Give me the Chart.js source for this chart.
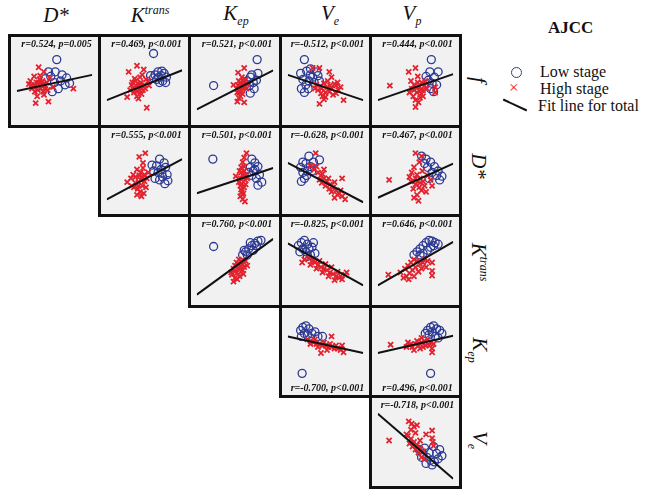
<!DOCTYPE html>
<html>
<head>
<meta charset="utf-8">
<script src="https://cdn.jsdelivr.net/npm/chart.js@4.4.1/dist/chart.umd.min.js"></script>
<style>
  body { margin: 0; background: #fff; width: 648px; height: 495px; position: relative; overflow: hidden; font-family: "Liberation Serif", serif; }
  .panel { position: absolute; box-sizing: border-box; border: 3px solid #111; background: #f1f1f1; }
  .panel canvas { display: block; }
  .hdr { position: absolute; font-style: italic; font-size: 21px; transform: translate(-50%, -50%); white-space: nowrap; color: #111; }
  .hdr sup, .side sup { font-size: 12px; }
  .hdr sub, .side sub { font-size: 12px; }
  .side { position: absolute; font-style: italic; font-size: 21px; white-space: nowrap; color: #111; transform: translate(-50%, -50%) rotate(90deg); }
  .leg { position: absolute; font-family: "Liberation Serif", serif; font-size: 16px; color: #111; white-space: nowrap; }
</style>
</head>
<body>
<script>
// column / row variables of the matrix
const colVars = ["D*", "Ktrans", "Kep", "Ve", "Vp"];
const rowVars = ["f", "D*", "Ktrans", "Kep", "Ve"];

// points (x, y in 0-100 of the panel), fit line = [y at left, y at right]
const fD_low = [[53,78],[42,62],[51,62],[66,54],[64,45],[55,40],[47,36],[38,53],[45,56],[58,50],[60,58],[70,47],[50,48]];
const fD_high = [[29,68],[36,62],[23,56],[20,45],[25,21],[36,32],[42,23],[75,40],[18,50],[22,42],[26,48],[30,44],[34,50],[28,38],[32,40],[38,44],[24,36],[30,52],[40,48],[35,36],[27,30],[44,54],[20,40],[33,46],[48,42],[16,46],[31,57],[41,38],[25,44],[29,48],[37,40]];
const fD_fit = [37, 58];
const fD_r = "r=0.524, p=0.005";

const fK_low = [[62,86],[64,58],[68,62],[72,57],[76,60],[79,55],[74,50],[70,48],[66,52],[78,48],[69,55],[62,54],[73,63],[58,57]];
const fK_high = [[29,62],[40,70],[49,65],[27,29],[53,15],[33,45],[38,50],[42,42],[45,48],[48,38],[36,35],[40,30],[44,55],[50,45],[52,52],[35,40],[39,44],[46,33],[55,50],[42,27],[31,38],[47,58],[37,53],[43,38],[51,40],[34,48],[56,44],[44,44],[40,36],[46,40],[41,47]];
const fK_fit = [25, 64];
const fK_r = "r=0.469, p<0.001";

const fKep_low = [[79,78],[22,44],[80,60],[70,55],[78,51],[69,44],[70,34],[74,48],[66,50],[75,40],[72,58]];
const fKep_high = [[62,67],[54,61],[48,45],[62,22],[53,23],[55,50],[58,45],[60,40],[56,35],[62,48],[64,52],[52,40],[57,30],[59,55],[60,33],[54,44],[63,42],[66,46],[58,38],[55,28],[61,50],[53,35],[57,48],[65,40],[59,43],[56,42]];
const fKep_fit = [13, 64];
const fKep_r = "r=0.521, p<0.001";

const fVe_low = [[22,78],[17,60],[20,52],[24,45],[25,63],[30,58],[28,50],[33,55],[38,62],[35,48],[18,40],[22,35],[40,57],[27,40],[42,50],[30,66]];
const fVe_high = [[33,67],[42,67],[58,55],[55,62],[64,44],[67,38],[74,25],[42,20],[50,29],[38,45],[45,40],[48,47],[52,42],[55,36],[58,40],[62,46],[60,32],[44,34],[40,38],[50,35],[56,44],[66,48],[46,30],[53,50],[36,40],[64,34],[70,42],[48,26]];
const fVe_fit = [58, 25];
const fVe_r = "r=-0.512, p<0.001";

const fVp_low = [[71,78],[69,62],[80,62],[67,51],[72,47],[75,55],[78,45],[70,40],[74,36],[64,56]];
const fVp_high = [[16,44],[50,67],[41,62],[53,56],[50,16],[45,40],[48,45],[52,35],[55,42],[58,48],[60,38],[62,44],[47,30],[44,50],[56,28],[50,25],[60,30],[65,40],[76,42],[76,35],[42,35],[53,48],[58,33],[48,38],[63,50],[54,22],[51,41],[57,38]];
const fVp_fit = [25, 59];
const fVp_r = "r=0.444, p<0.001";

const DK_low = [[70,66],[76,61],[77,33],[66,57],[72,52],[80,45],[74,42],[68,48],[62,50],[78,55],[64,40],[70,38],[81,37],[60,58],[73,47]];
const DK_high = [[51,74],[43,69],[48,61],[27,35],[32,40],[40,52],[45,48],[50,45],[38,42],[42,35],[47,30],[44,22],[36,28],[50,36],[53,40],[40,18],[46,16],[35,45],[48,54],[52,28],[38,34],[43,44],[55,48],[41,26],[49,20],[33,30],[45,38],[47,42],[42,30]];
const DK_fit = [12, 66];
const DK_r = "r=0.555, p<0.001";

const DKep_low = [[21,66],[72,66],[76,61],[80,56],[70,55],[74,50],[82,45],[78,40],[72,44],[85,35],[80,31],[68,48],[76,52]];
const DKep_high = [[65,74],[62,68],[60,62],[51,43],[58,55],[62,50],[60,45],[57,40],[63,38],[59,33],[62,28],[58,25],[61,20],[57,16],[60,12],[63,9],[64,45],[56,50],[66,40],[55,35],[59,22],[62,56],[57,30],[64,32],[60,18],[61,42],[58,48]];
const DKep_fit = [20, 54];
const DKep_r = "r=0.501, p<0.001";

const DVe_low = [[42,65],[17,55],[20,48],[24,60],[28,70],[22,40],[18,36],[26,50],[30,56],[34,62],[25,44],[32,50],[20,62]];
const DVe_high = [[37,74],[72,40],[30,57],[35,52],[40,48],[44,44],[48,40],[52,36],[56,32],[60,28],[64,24],[68,20],[72,16],[76,12],[42,38],[50,30],[46,46],[54,40],[58,22],[62,35],[66,18],[38,56],[45,34],[55,26],[70,24],[48,52],[62,14]];
const DVe_fit = [61, 8];
const DVe_r = "r=-0.628, p<0.001";

const DVp_low = [[58,70],[64,66],[70,62],[75,56],[80,50],[85,43],[72,48],[66,55],[78,44],[68,40],[62,60],[82,38]];
const DVp_high = [[15,38],[50,74],[58,70],[55,62],[48,55],[45,48],[52,45],[56,40],[60,36],[44,36],[50,32],[55,28],[58,24],[52,18],[48,14],[54,10],[62,30],[66,44],[70,38],[42,42],[47,26],[59,50],[64,22],[72,30],[53,36],[50,40],[56,34]];
const DVp_fit = [14, 60];
const DVp_r = "r=0.467, p<0.001";

const KKep_low = [[22,69],[60,58],[64,62],[68,66],[72,70],[76,73],[80,76],[84,77],[70,74],[74,64],[66,58],[62,64],[78,70]];
const KKep_high = [[45,35],[48,40],[50,44],[52,48],[55,52],[58,50],[60,46],[55,40],[52,34],[50,28],[48,23],[56,30],[60,38],[62,42],[64,50],[54,46],[46,32],[58,36],[66,44],[50,38],[53,26],[57,44],[61,33]];
const KKep_fit = [6, 79];
const KKep_r = "r=0.760, p<0.001";

const KVe_low = [[14,70],[18,74],[22,77],[26,72],[20,66],[24,62],[28,66],[32,68],[36,60],[30,58],[16,62],[34,74],[26,56]];
const KVe_high = [[22,52],[28,54],[32,50],[36,48],[40,45],[44,42],[48,40],[52,38],[56,35],[60,33],[64,30],[68,28],[72,26],[76,32],[78,35],[30,45],[38,40],[46,35],[54,30],[62,25],[42,50],[50,46],[58,42],[66,36],[70,30],[34,52],[19,48]];
const KVe_fit = [73, 18];
const KVe_r = "r=-0.825, p<0.001";

const KVp_low = [[48,58],[52,62],[56,66],[60,70],[64,74],[68,77],[72,76],[76,74],[80,72],[66,64],[70,68],[60,60],[56,58],[74,70]];
const KVp_high = [[14,32],[41,26],[72,48],[72,37],[72,31],[30,35],[36,40],[40,44],[44,48],[48,52],[52,50],[56,46],[60,48],[62,52],[64,42],[50,42],[46,38],[54,36],[42,34],[58,40],[38,30],[66,50],[48,30],[34,28]];
const KVp_fit = [18, 75];
const KVp_r = "r=0.646, p<0.001";

const KepVe_low = [[17,78],[20,82],[24,84],[28,80],[22,74],[18,70],[26,72],[32,74],[36,76],[30,68],[40,70],[46,70],[19,21]];
const KepVe_high = [[58,70],[44,48],[74,49],[26,66],[30,64],[34,62],[38,60],[42,60],[46,58],[50,58],[54,56],[58,56],[62,54],[66,54],[70,52],[72,58],[30,60],[40,56],[48,62],[56,60],[64,58],[36,66],[52,52]];
const KepVe_fit = [70, 48];
const KepVe_r = "r=-0.700, p<0.001";

const KepVp_low = [[63,74],[66,78],[70,82],[74,84],[78,80],[82,78],[85,74],[72,76],[68,72],[76,70],[80,68],[70,21]];
const KepVp_high = [[17,59],[72,49],[38,56],[42,58],[46,56],[50,60],[54,58],[58,62],[62,64],[66,66],[70,62],[74,60],[48,52],[56,54],[64,58],[40,62],[52,64],[60,56],[68,58],[72,54],[44,60],[58,68]];
const KepVp_fit = [48, 71];
const KepVp_r = "r=0.496, p<0.001";

const VeVp_low = [[55,40],[60,35],[65,30],[70,26],[75,24],[80,28],[85,32],[58,30],[64,22],[72,20],[78,35],[68,36],[62,42],[82,40],[74,44]];
const VeVp_high = [[15,52],[41,77],[45,74],[48,70],[52,72],[44,66],[50,62],[72,65],[72,55],[73,50],[74,45],[40,58],[44,54],[48,50],[52,46],[56,42],[60,38],[46,44],[50,40],[54,36],[42,48],[56,52],[38,60],[58,30],[62,28],[64,60]];
const VeVp_fit = [87, 2];
const VeVp_r = "r=-0.718, p<0.001";

const panels = [
  [0, 0, fD_low, fD_high, fD_fit, fD_r],
  [0, 1, fK_low, fK_high, fK_fit, fK_r],
  [0, 2, fKep_low, fKep_high, fKep_fit, fKep_r],
  [0, 3, fVe_low, fVe_high, fVe_fit, fVe_r],
  [0, 4, fVp_low, fVp_high, fVp_fit, fVp_r],
  [1, 1, DK_low, DK_high, DK_fit, DK_r],
  [1, 2, DKep_low, DKep_high, DKep_fit, DKep_r],
  [1, 3, DVe_low, DVe_high, DVe_fit, DVe_r],
  [1, 4, DVp_low, DVp_high, DVp_fit, DVp_r],
  [2, 2, KKep_low, KKep_high, KKep_fit, KKep_r],
  [2, 3, KVe_low, KVe_high, KVe_fit, KVe_r],
  [2, 4, KVp_low, KVp_high, KVp_fit, KVp_r],
  [3, 3, KepVe_low, KepVe_high, KepVe_fit, KepVe_r],
  [3, 4, KepVp_low, KepVp_high, KepVp_fit, KepVp_r],
  [4, 4, VeVp_low, VeVp_high, VeVp_fit, VeVp_r],
];

// grid edges in page pixels
const colEdges = [9, 99, 189, 280, 370, 460];
const rowEdges = [35, 126, 215, 306, 396, 487];

const rLabel = {
  id: "rLabel",
  afterDraw(chart, args, opts) {
    const { ctx, width, height } = chart;
    ctx.save();
    ctx.font = "italic bold 10px 'Liberation Serif'";
    ctx.fillStyle = "#111";
    ctx.textAlign = "center";
    ctx.textBaseline = "middle";
    const y = opts.bottom ? height - 7 : 7;
    ctx.fillText(opts.text, width / 2 + 2, y);
    ctx.restore();
  }
};

const toXY = (arr) => arr.map(p => ({ x: p[0], y: p[1] }));

panels.forEach(([r, c, low, high, fit, label]) => {
  const div = document.createElement("div");
  div.className = "panel";
  const w = colEdges[c + 1] - colEdges[c] + 3;
  const h = rowEdges[r + 1] - rowEdges[r] + 3;
  div.style.left = (colEdges[c] - 1) + "px";
  div.style.top = (rowEdges[r] - 1) + "px";
  div.style.width = w + "px";
  div.style.height = h + "px";
  const cv = document.createElement("canvas");
  cv.width = w - 6;
  cv.height = h - 6;
  div.appendChild(cv);
  document.body.appendChild(div);

  new Chart(cv.getContext("2d"), {
    type: "scatter",
    data: {
      datasets: [
        {
          type: "line",
          data: [{ x: 0, y: fit[0] }, { x: 100, y: fit[1] }],
          borderColor: "#111",
          borderWidth: 2,
          pointRadius: 0,
          order: 0,
        },
        {
          data: toXY(high),
          pointStyle: "crossRot",
          pointRadius: 3.6,
          borderColor: "#e2222e",
          borderWidth: 1.8,
          order: 1,
        },
        {
          data: toXY(low),
          pointStyle: "circle",
          pointRadius: 4,
          borderColor: "#2d3a94",
          backgroundColor: "rgba(0,0,0,0)",
          borderWidth: 1.3,
          order: 2,
        },
      ],
    },
    options: {
      responsive: false,
      animation: false,
      events: [],
      layout: { padding: 0 },
      scales: {
        x: { type: "linear", min: 0, max: 100, display: false },
        y: { type: "linear", min: 0, max: 100, display: false },
      },
      plugins: {
        legend: { display: false },
        tooltip: { enabled: false },
        rLabel: { text: label, bottom: r === 3 },
      },
    },
    plugins: [rLabel],
  });
});

// column headers and row labels
const hdrHtml = ["D*", "K<sup>trans</sup>", "K<sub>ep</sub>", "V<sub>e</sub>", "V<sub>p</sub>"];
const hdrX = [56, 150, 236, 330, 412];
hdrHtml.forEach((t, i) => {
  const d = document.createElement("div");
  d.className = "hdr";
  d.innerHTML = t;
  d.style.left = hdrX[i] + "px";
  d.style.top = "15px";
  document.body.appendChild(d);
});
const sideHtml = ["f", "D*", "K<sup>trans</sup>", "K<sub>ep</sub>", "V<sub>e</sub>"];
const sideY = [80, 166, 262, 350, 440];
sideHtml.forEach((t, i) => {
  const d = document.createElement("div");
  d.className = "side";
  d.innerHTML = t;
  d.style.left = "478px";
  d.style.top = sideY[i] + "px";
  document.body.appendChild(d);
});
</script>
<div class="leg" style="left:548px; top:18px; font-weight:bold; font-size:17px;">AJCC</div>
<div style="position:absolute; left:511px; top:67px; width:9px; height:9px; border:1.5px solid #2d3a94; border-radius:50%;"></div>
<div class="leg" style="left:540px; top:63px;">Low stage</div>
<div class="leg" style="left:509px; top:78px; color:#e2222e; font-size:17px;">×</div>
<div class="leg" style="left:540px; top:80px;">High stage</div>
<div style="position:absolute; left:502px; top:104px; width:26px; height:2px; background:#111; transform:rotate(25deg);"></div>
<div class="leg" style="left:538px; top:97px;">Fit line for total</div>
</body>
</html>
